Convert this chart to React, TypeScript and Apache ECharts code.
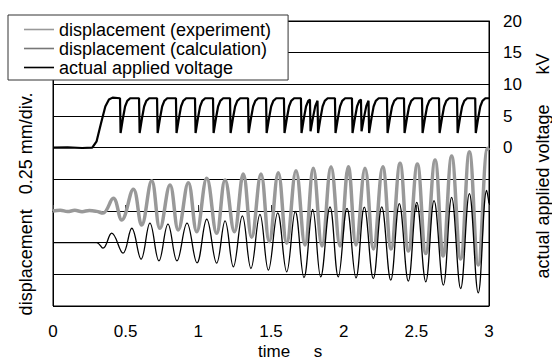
import React, { useEffect, useRef } from 'react';
import * as echarts from 'echarts';

const FONT = '"Liberation Sans", Arial, Helvetica, sans-serif';

const seriesNames = ['displacement (experiment)', 'displacement (calculation)', 'actual applied voltage'];

// displacement (experiment), mm, relative to its own baseline: [time s, mm]
const experiment: [number, number][] = [
  [0, 0], [0.05, 0.006], [0.1, -0.004], [0.15, 0.005], [0.2, -0.005], [0.25, 0.004], [0.3, -0.003],
  [0.344, -0.016], [0.415, 0.1], [0.473, -0.071], [0.553, 0.171], [0.61, -0.111], [0.679, 0.239],
  [0.736, -0.137], [0.805, 0.205], [0.862, -0.15], [0.931, 0.223], [0.989, -0.163], [1.058, 0.258],
  [1.126, -0.176], [1.184, 0.245], [1.248, -0.163], [1.309, 0.292], [1.367, -0.208], [1.431, 0.292],
  [1.488, -0.242], [1.55, 0.302], [1.608, -0.255], [1.672, 0.318], [1.734, -0.268], [1.791, 0.337],
  [1.851, -0.276], [1.913, 0.35], [1.975, -0.276], [2.032, 0.35], [2.085, -0.268], [2.147, 0.337],
  [2.205, -0.3], [2.269, 0.35], [2.326, -0.3], [2.388, 0.376], [2.445, -0.316], [2.507, 0.371],
  [2.565, -0.336], [2.629, 0.403], [2.684, -0.355], [2.743, 0.434], [2.805, -0.379], [2.865, 0.468],
  [2.926, -0.426], [2.99, 0.495], [3.0, 0.48],
];

// displacement (calculation), mm, relative to its own baseline
const calculation: [number, number][] = [
  [0, 0], [0.3, 0], [0.344, -0.043], [0.404, 0.075], [0.482, -0.083], [0.542, 0.114], [0.606, -0.13],
  [0.667, 0.154], [0.729, -0.144], [0.791, 0.146], [0.853, -0.144], [0.922, 0.154], [0.991, -0.159],
  [1.058, 0.185], [1.126, -0.162], [1.184, 0.172], [1.241, -0.191], [1.303, 0.212], [1.362, -0.204],
  [1.424, 0.223], [1.482, -0.217], [1.546, 0.235], [1.608, -0.23], [1.667, 0.246], [1.727, -0.275],
  [1.787, 0.262], [1.842, -0.27], [1.906, 0.283], [1.963, -0.27], [2.023, 0.27], [2.085, -0.278],
  [2.142, 0.28], [2.204, -0.283], [2.262, 0.283], [2.324, -0.296], [2.383, 0.308], [2.445, -0.304],
  [2.503, 0.318], [2.565, -0.309], [2.622, 0.332], [2.686, -0.335], [2.743, 0.357], [2.805, -0.362],
  [2.865, 0.387], [2.926, -0.396], [2.984, 0.412], [3.0, 0.31],
];

// actual applied voltage, kV
const voltage: [number, number][] = [
  [0, 0], [0.1, 0.05], [0.2, -0.05], [0.27, 0], [0.3, 1.0], [0.33, 3.8], [0.36, 6.5], [0.385, 7.6], [0.41, 7.9],
  [0.461, 7.8], [0.465, 2.3], [0.481, 4.6], [0.496, 6.5], [0.511, 7.4], [0.531, 7.8],
  [0.592, 7.8], [0.596, 2.3], [0.612, 4.6], [0.627, 6.5], [0.642, 7.4], [0.662, 7.8],
  [0.716, 7.8], [0.72, 2.3], [0.736, 4.6], [0.751, 6.5], [0.766, 7.4], [0.786, 7.8],
  [0.846, 7.8], [0.85, 2.3], [0.866, 4.6], [0.881, 6.5], [0.896, 7.4], [0.916, 7.8],
  [0.977, 7.8], [0.981, 2.3], [0.997, 4.6], [1.012, 6.5], [1.027, 7.4], [1.047, 7.8],
  [1.101, 7.8], [1.105, 2.3], [1.121, 4.6], [1.136, 6.5], [1.151, 7.4], [1.171, 7.8],
  [1.218, 7.8], [1.222, 2.3], [1.238, 4.6], [1.253, 6.5], [1.268, 7.4], [1.288, 7.8],
  [1.342, 7.8], [1.346, 2.3], [1.362, 4.6], [1.377, 6.5], [1.392, 7.4], [1.412, 7.8],
  [1.466, 7.8], [1.47, 2.3], [1.486, 4.6], [1.501, 6.5], [1.516, 7.4], [1.536, 7.8],
  [1.589, 7.8], [1.593, 2.3], [1.609, 4.6], [1.624, 6.5], [1.639, 7.4], [1.659, 7.8],
  [1.706, 7.8], [1.71, 2.3], [1.726, 4.6], [1.741, 6.5], [1.756, 7.4], [1.768, 7.6],
  [1.772, 2.6], [1.79, 4.9], [1.805, 6.6], [1.82, 7.4],
  [1.824, 2.3], [1.84, 4.6], [1.855, 6.5], [1.87, 7.4], [1.89, 7.8],
  [1.94, 7.8], [1.944, 2.3], [1.96, 4.6], [1.975, 6.5], [1.99, 7.4], [2.01, 7.8],
  [2.057, 7.8], [2.061, 2.3], [2.077, 4.6], [2.092, 6.5], [2.107, 7.4], [2.119, 7.6],
  [2.123, 2.6], [2.141, 4.9], [2.156, 6.6], [2.171, 7.4],
  [2.175, 2.3], [2.191, 4.6], [2.206, 6.5], [2.221, 7.4], [2.241, 7.8],
  [2.298, 7.8], [2.302, 2.3], [2.318, 4.6], [2.333, 6.5], [2.348, 7.4], [2.368, 7.8],
  [2.415, 7.8], [2.419, 2.3], [2.435, 4.6], [2.45, 6.5], [2.465, 7.4], [2.485, 7.8],
  [2.539, 7.8], [2.543, 2.3], [2.559, 4.6], [2.574, 6.5], [2.589, 7.4], [2.609, 7.8],
  [2.656, 7.8], [2.66, 2.3], [2.676, 4.6], [2.691, 6.5], [2.706, 7.4], [2.726, 7.8],
  [2.78, 7.8], [2.784, 2.3], [2.8, 4.6], [2.815, 6.5], [2.83, 7.4], [2.85, 7.8],
  [2.905, 7.8], [2.909, 2.3], [2.925, 4.6], [2.94, 6.5], [2.955, 7.4], [2.975, 7.8], [3.0, 7.8],
];

// vertical offsets (mm) at which the two displacement traces are drawn
const experimentOffset = 0;
const calculationOffset = -0.25;

const xAxisName = 'time\u00a0\u00a0\u00a0\u00a0\u00a0s';
const leftAxisName = 'displacement\u00a0\u00a0\u00a00.25 mm/div.';
const rightAxisName = 'actual applied voltage\u00a0\u00a0\u00a0\u00a0\u00a0\u00a0kV';

export default function App() {
  const ref = useRef<HTMLDivElement>(null);
  useEffect(() => {
    if (!ref.current) return;
    const chart = echarts.init(ref.current, undefined, { renderer: 'svg' });
    const black = '#000';
    chart.setOption({
      animation: false,
      backgroundColor: '#fff',
      textStyle: { fontFamily: FONT },
      grid: { left: 53, right: 63, top: 21, bottom: 54, show: true, borderColor: black, borderWidth: 1, backgroundColor: 'transparent' },
      legend: {
        left: 8,
        top: 15,
        orient: 'vertical',
        backgroundColor: '#fff',
        borderColor: '#333',
        borderWidth: 1,
        borderRadius: 0,
        padding: [5, 17, 3, 16],
        icon: 'rect',
        itemWidth: 30,
        itemHeight: 1.6,
        itemGap: 0,
        textStyle: { fontSize: 18, lineHeight: 19, color: black, fontFamily: FONT },
        data: [
          { name: seriesNames[0], itemStyle: { color: '#999' } },
          { name: seriesNames[1], itemStyle: { color: '#777' } },
          { name: seriesNames[2], itemStyle: { color: black } },
        ],
      },
      xAxis: {
        type: 'value',
        min: 0,
        max: 3,
        interval: 0.5,
        axisLine: { show: true, lineStyle: { color: black, width: 1 } },
        axisTick: { show: true, inside: true, length: 6, lineStyle: { color: '#333' } },
        axisLabel: { fontSize: 17, lineHeight: 17, color: black, margin: 17, fontFamily: FONT },
        splitLine: { show: false },
      },
      yAxis: [
        {
          type: 'value',
          position: 'left',
          min: -0.75,
          max: 1.5,
          interval: 0.25,
          axisLine: { show: true, lineStyle: { color: black, width: 1 } },
          axisTick: { show: false },
          axisLabel: { show: false },
          splitLine: { show: false },
        },
        {
          type: 'value',
          position: 'right',
          min: -25,
          max: 20,
          interval: 5,
          axisLine: { show: true, lineStyle: { color: black, width: 1 } },
          axisTick: { show: false },
          axisLabel: {
            fontSize: 17,
            color: black,
            margin: 14,
            fontFamily: FONT,
            formatter: (v: number) => (v >= 0 ? String(v) : ''),
          },
          splitLine: { show: true, lineStyle: { color: black, width: 1 } },
        },
      ],
      graphic: [
        {
          type: 'text', x: 258, y: 351.5,
          style: { text: xAxisName, fontSize: 17, lineHeight: 16, fontFamily: FONT, fill: black, align: 'left', verticalAlign: 'middle' },
        },
        {
          type: 'text', x: 26, y: 204, rotation: Math.PI / 2,
          style: { text: leftAxisName, fontSize: 18, fontFamily: FONT, fill: black, align: 'center', verticalAlign: 'middle' },
        },
        {
          type: 'text', x: 543, y: 166, rotation: Math.PI / 2,
          style: { text: rightAxisName, fontSize: 18, fontFamily: FONT, fill: black, align: 'center', verticalAlign: 'middle' },
        },
      ],
      series: [
        {
          name: seriesNames[0],
          type: 'line',
          yAxisIndex: 0,
          symbol: 'none',
          smooth: 0.4,
          data: experiment.map(([t, d]) => [t, d + experimentOffset]),
          itemStyle: { color: '#999' },
          lineStyle: { color: '#999', width: 3.5 },
          z: 2,
        },
        {
          name: seriesNames[1],
          type: 'line',
          yAxisIndex: 0,
          symbol: 'none',
          smooth: 0.4,
          data: calculation.map(([t, d]) => [t, d + calculationOffset]),
          itemStyle: { color: black },
          lineStyle: { color: black, width: 1.3 },
          z: 3,
        },
        {
          name: seriesNames[2],
          type: 'line',
          yAxisIndex: 1,
          symbol: 'none',
          data: voltage,
          itemStyle: { color: black },
          lineStyle: { color: black, width: 2.2 },
          z: 4,
        },
      ],
    });
    return () => chart.dispose();
  }, []);
  return <div ref={ref} style={{ position: 'fixed', left: 0, top: 0, width: 552, height: 360 }} />;
}
